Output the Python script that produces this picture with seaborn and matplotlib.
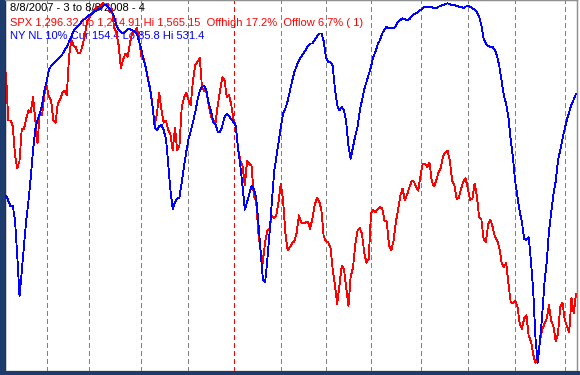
import numpy as np
import pandas as pd
import matplotlib
matplotlib.use("Agg")
import matplotlib.pyplot as plt
import seaborn as sns
from matplotlib.patches import Rectangle

# ---- data ----
start_date, end_date = "2007-08-08", "2008-08-08"
holidays = ["2007-09-03", "2007-11-22", "2007-12-25", "2008-01-01", "2008-01-21",
            "2008-02-18", "2008-03-21", "2008-05-26", "2008-07-04"]

spx_close = [
    1497, 1451, 1451, 1446, 1417, 1405, 1412, 1443, 1443, 1453,
    1461, 1459, 1474, 1451, 1429, 1459, 1456, 1476, 1485, 1474,
    1471, 1451, 1449, 1468, 1471, 1478, 1480, 1476, 1514, 1529,
    1524, 1522, 1516, 1517, 1524, 1534, 1547, 1551, 1554, 1558,
    1561, 1559, 1563, 1565, 1563, 1564, 1556, 1559, 1541, 1537,
    1524, 1502, 1510, 1516, 1513, 1526, 1536, 1537, 1541, 1531,
    1514, 1512, 1502, 1492, 1482, 1466, 1446, 1458, 1478, 1461,
    1449, 1451, 1442, 1437, 1422, 1444, 1422, 1427, 1464, 1473,
    1478, 1471, 1466, 1490, 1505, 1508, 1512, 1483, 1480, 1478,
    1466, 1455, 1451, 1449, 1466, 1480, 1493, 1490, 1474, 1476,
    1466, 1451, 1446, 1424, 1412, 1407, 1388, 1412, 1409, 1407,
    1378, 1373, 1342, 1325, 1313, 1333, 1344, 1346, 1359, 1356,
    1359, 1373, 1390, 1373, 1342, 1325, 1328, 1332, 1334, 1342,
    1359, 1352, 1352, 1352, 1353, 1346, 1356, 1369, 1376, 1373,
    1364, 1339, 1334, 1333, 1328, 1307, 1291, 1273, 1291, 1310,
    1307, 1289, 1271, 1300, 1308, 1330, 1344, 1347, 1341, 1323,
    1313, 1317, 1361, 1364, 1362, 1365, 1367, 1366, 1354, 1353,
    1330, 1325, 1334, 1352, 1364, 1378, 1385, 1374, 1379, 1386,
    1392, 1392, 1387, 1383, 1398, 1409, 1409, 1406, 1410, 1392,
    1387, 1393, 1401, 1405, 1417, 1420, 1422, 1412, 1393, 1388,
    1375, 1376, 1385, 1392, 1395, 1385, 1374, 1375, 1390, 1378,
    1357, 1355, 1336, 1333, 1350, 1355, 1348, 1338, 1335, 1327,
    1313, 1309, 1313, 1293, 1275, 1274, 1276, 1271, 1254, 1249,
    1259, 1262, 1242, 1237, 1224, 1216, 1219, 1237, 1248, 1254,
    1259, 1272, 1257, 1251, 1237, 1244, 1270, 1274, 1258, 1251,
    1246, 1279, 1264, 1283,
]

ny_nl_10 = [
    314, 320, 327, 326, 344, 386, 435, 404, 372, 343,
    320, 292, 260, 235, 223, 216, 206, 189, 178, 164,
    159, 156, 153, 151, 148, 145, 140, 136, 130, 124,
    117, 114, 111, 108, 104, 103, 100, 98, 97, 94,
    93, 91, 90, 87, 86, 87, 91, 94, 100, 110,
    116, 118, 120, 118, 115, 115, 116, 118, 120, 129,
    138, 151, 160, 175, 187, 206, 232, 236, 231, 229,
    236, 246, 276, 308, 330, 322, 318, 316, 298, 279,
    262, 246, 237, 226, 214, 200, 189, 184, 183, 189,
    204, 213, 226, 229, 238, 238, 231, 220, 216, 219,
    223, 226, 231, 258, 278, 303, 331, 322, 312, 302,
    306, 316, 346, 380, 414, 418, 391, 358, 322, 286,
    268, 250, 231, 216, 210, 201, 189, 177, 166, 159,
    152, 148, 144, 140, 135, 132, 132, 128, 124, 120,
    120, 129, 148, 154, 154, 159, 186, 206, 212, 208,
    212, 226, 255, 270, 256, 243, 232, 213, 200, 187,
    178, 169, 160, 148, 142, 133, 128, 120, 115, 112,
    114, 114, 114, 111, 106, 104, 102, 103, 104, 103,
    100, 97, 96, 94, 92, 90, 88, 88, 88, 88,
    90, 90, 88, 87, 86, 85, 84, 85, 86, 86,
    87, 88, 88, 90, 88, 87, 88, 90, 91, 94,
    100, 110, 126, 132, 135, 136, 136, 140, 147, 160,
    177, 195, 204, 220, 247, 268, 297, 315, 333, 346,
    366, 367, 364, 392, 428, 484, 514, 488, 457, 418,
    394, 357, 334, 312, 297, 272, 260, 246, 234, 223,
    214, 205, 199, 192,
]

header_text = "8/8/2007 - 3 to 8/8/2008 - 4"
spx_text = "SPX 1,296.32 Lo 1,214.91 Hi 1,565.15  Offhigh 17.2%  Offlow 6.7% ( 1)"
nl_text = "NY NL 10% Cur 154.4 Lo 85.8 Hi 531.4"

# ---- build table ----
days = pd.bdate_range(start_date, end_date)
days = days[~days.isin(pd.to_datetime(holidays))]
df = pd.DataFrame({"date": days, "day": np.arange(len(days)),
                   "spx": spx_close, "nl": ny_nl_10})
by_month = df.groupby(df["date"].dt.to_period("M"))
firsts = by_month["day"].min().iloc[1:]
first_month = by_month["date"].min().iloc[1:]

# ---- figure ----
sns.set_style("white")
plt.rcParams["font.family"] = ["Liberation Sans", "DejaVu Sans"]

W, H = 580, 375
fig = plt.figure(figsize=(W / 100, H / 100), dpi=100)
fig.patch.set_facecolor("white")

# window frame
fig.patches.append(Rectangle((0, 0), 5 / W, 1, transform=fig.transFigure,
                             facecolor="#1d3b6c", edgecolor="none", zorder=0))
fig.patches.append(Rectangle((0, 0), 1, 4 / H, transform=fig.transFigure,
                             facecolor="#1d3b6c", edgecolor="none", zorder=0))

ax = fig.add_axes([5 / W, 4 / H, 572 / W, 371 / H])
ax2 = ax.twinx()

ppx = 570 / (len(df) - 1)
ax.set_xlim(-1 / ppx, (len(df) - 1) + 1 / ppx)
ax.set_ylim(1208, 1568)
ax2.set_ylim(524, 80)

for d, dt in zip(firsts.values, first_month.values):
    col = "#ff0000" if pd.Timestamp(dt).month == 1 else "#808080"
    ax.axvline(d, color=col, lw=0.72, ls=(0, (5, 3)), zorder=1, antialiased=False)

sns.lineplot(data=df, x="day", y="spx", ax=ax, color="#ff0000", lw=0.6,
             zorder=3, legend=False)
sns.lineplot(data=df, x="day", y="nl", ax=ax2, color="#0000ff", lw=0.6,
             zorder=3, legend=False)
for a in (ax, ax2):
    for ln in a.get_lines():
        ln.set_antialiased(False)

def px_text(y_px, s, color):
    ax.text(5 / 572, 1 - y_px / 371, s, transform=ax.transAxes, color=color,
            fontsize=8, va="center", ha="left", zorder=2)

px_text(8, header_text, "black")
px_text(22.5, spx_text, "#ff0000")
px_text(36, nl_text, "#0000ff")

for a in (ax, ax2):
    a.set_xlabel("")
    a.set_ylabel("")
    a.set_xticks([])
    a.set_yticks([])
    for side, sp in a.spines.items():
        sp.set_color("#909090")
        sp.set_linewidth(0.9)
ax.spines["left"].set_color("#303030")
ax2.spines["left"].set_color("#303030")

fig.savefig("out.png", dpi=100)
